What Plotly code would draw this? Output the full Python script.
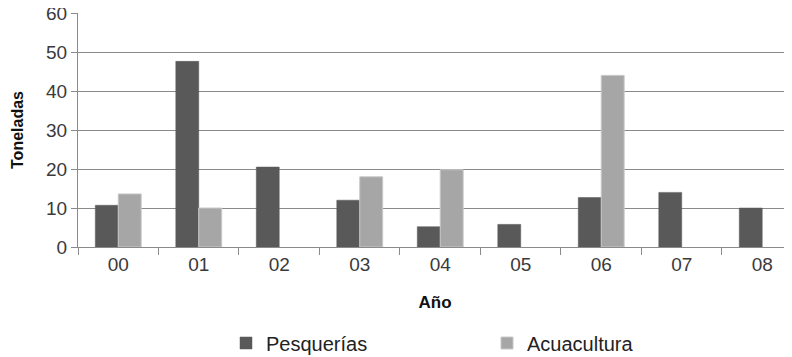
import plotly.graph_objects as go

categories = ["00", "01", "02", "03", "04", "05", "06", "07", "08"]
pesquerias = [10.7, 47.6, 20.5, 12.0, 5.2, 5.8, 12.7, 14.0, 10.0]
acuacultura = [13.6, 10.0, None, 18.0, 19.8, None, 44.0, None, None]
y_ticks = [0, 10, 20, 30, 40, 50, 60]

fig = go.Figure()
fig.add_trace(go.Bar(x=categories, y=pesquerias, name="Pesquerías",
                     marker=dict(color="#595959", line=dict(color="#595959", width=0.5))))
fig.add_trace(go.Bar(x=categories, y=acuacultura, name="Acuacultura",
                     marker=dict(color="#a6a6a6", line=dict(color="#c8c8c8", width=1))))

grid = "#8a8a8a"
# page body has an 8px default margin, so the figure is sized to fit the window
fig.update_layout(
    width=784, height=349,
    margin=dict(l=70, r=0, t=5, b=110, autoexpand=False),
    paper_bgcolor="white", plot_bgcolor="white",
    barmode="group", bargap=0.43, bargroupgap=0,
    font=dict(family="Liberation Sans, Arial, sans-serif", color="#3a3a3a"),
    showlegend=True,
    legend=dict(orientation="h", x=(226 - 78) / 714, xanchor="left",
                y=(247 - 343) / 234, yanchor="middle",
                font=dict(size=20, color="#222222"),
                entrywidth=216, entrywidthmode="pixels",
                itemwidth=30, bgcolor="rgba(0,0,0,0)"),
    xaxis=dict(
        type="category", range=[-0.5, 8.37], automargin=False,
        showline=True, linecolor=grid, linewidth=1,
        ticks="outside", tickson="boundaries", ticklen=7, tickcolor=grid,
        tickfont=dict(size=19, color="#3a3a3a"),
        showgrid=False,
        title=dict(text="<b>Año</b>", font=dict(size=17, color="#111111"), standoff=22),
    ),
    yaxis=dict(
        range=[0, 60], tickvals=y_ticks, automargin=False,
        ticklabeloverflow="allow",
        showline=True, linecolor=grid, linewidth=1,
        ticks="outside", ticklen=6, tickcolor=grid,
        showgrid=True, gridcolor=grid, gridwidth=1,
        zeroline=False,
        tickfont=dict(size=19, color="#3a3a3a"),
        title=dict(text="<b>Toneladas</b>", font=dict(size=16, color="#111111"), standoff=18),
    ),
)

fig.write_html("out.html")
